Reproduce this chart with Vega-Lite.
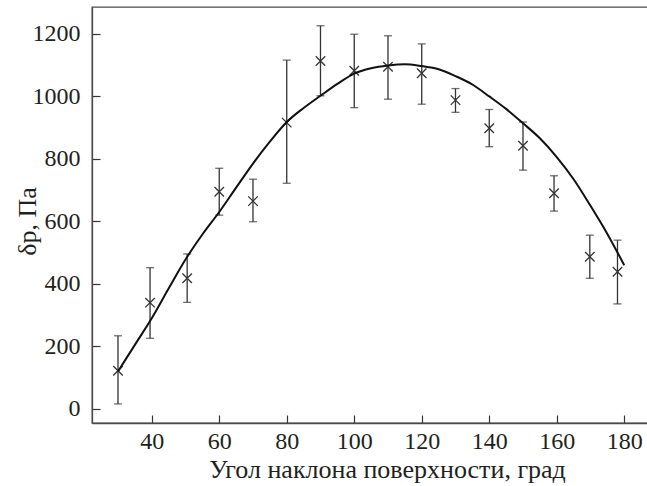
{
  "$schema": "https://vega.github.io/schema/vega-lite/v6.json",
  "width": 556,
  "height": 416,
  "autosize": {"type": "none"},
  "padding": {"left": 92, "top": 7, "right": 0, "bottom": 63},
  "background": "white",
  "config": {
    "view": {"stroke": "#4a4a4a", "strokeWidth": 1.3},
    "font": "Liberation Serif",
    "axis": {
      "grid": false,
      "domainColor": "#4a4a4a",
      "domainWidth": 1.3,
      "tickColor": "#333333",
      "tickWidth": 1.2,
      "tickSize": -8,
      "labelFont": "Liberation Serif",
      "labelFontSize": 24,
      "labelColor": "#231f20",
      "titleFont": "Liberation Serif",
      "titleFontSize": 26,
      "titleFontWeight": "normal",
      "titleColor": "#231f20"
    }
  },
  "datasets": {
    "points": [
      {"angle": 30, "dp": 122, "lo": 16, "hi": 234},
      {"angle": 39.5, "dp": 340, "lo": 226, "hi": 452},
      {"angle": 50.5, "dp": 418, "lo": 341, "hi": 496},
      {"angle": 60, "dp": 695, "lo": 620, "hi": 770},
      {"angle": 70, "dp": 665, "lo": 599, "hi": 735},
      {"angle": 80, "dp": 916, "lo": 722, "hi": 1116},
      {"angle": 90, "dp": 1113, "lo": 1002, "hi": 1226},
      {"angle": 100, "dp": 1082, "lo": 964, "hi": 1199},
      {"angle": 110, "dp": 1095, "lo": 991, "hi": 1194},
      {"angle": 120, "dp": 1074, "lo": 975, "hi": 1168},
      {"angle": 130, "dp": 988, "lo": 949, "hi": 1025},
      {"angle": 140, "dp": 898, "lo": 839, "hi": 958},
      {"angle": 150, "dp": 842, "lo": 764, "hi": 918},
      {"angle": 159.2, "dp": 690, "lo": 633, "hi": 746},
      {"angle": 169.8, "dp": 487, "lo": 418, "hi": 556},
      {"angle": 178, "dp": 439, "lo": 336, "hi": 540}
    ],
    "curve": [
      {"angle": 30, "dp": 120},
      {"angle": 35, "dp": 205},
      {"angle": 40, "dp": 290},
      {"angle": 45, "dp": 385},
      {"angle": 50, "dp": 478},
      {"angle": 55, "dp": 558},
      {"angle": 60, "dp": 630},
      {"angle": 65, "dp": 708},
      {"angle": 70, "dp": 785},
      {"angle": 75, "dp": 855},
      {"angle": 80, "dp": 918},
      {"angle": 85, "dp": 963},
      {"angle": 90, "dp": 1002},
      {"angle": 95, "dp": 1040},
      {"angle": 100, "dp": 1073},
      {"angle": 105, "dp": 1090},
      {"angle": 110, "dp": 1099},
      {"angle": 115, "dp": 1103},
      {"angle": 120, "dp": 1097},
      {"angle": 125, "dp": 1087},
      {"angle": 130, "dp": 1065},
      {"angle": 135, "dp": 1038},
      {"angle": 140, "dp": 1000},
      {"angle": 145, "dp": 960},
      {"angle": 150, "dp": 914},
      {"angle": 155, "dp": 866},
      {"angle": 160, "dp": 806},
      {"angle": 165, "dp": 735},
      {"angle": 170, "dp": 650},
      {"angle": 175, "dp": 560},
      {"angle": 180, "dp": 460}
    ]
  },
  "encoding": {
    "x": {
      "field": "angle",
      "type": "quantitative",
      "scale": {"domain": [22.3, 187.04], "nice": false, "zero": false},
      "axis": {
        "values": [40, 60, 80, 100, 120, 140, 160, 180],
        "format": "d",
        "title": "Угол наклона поверхности, град",
        "labelBaseline": "alphabetic",
        "labelPadding": 33,
        "titleBaseline": "alphabetic",
        "titleX": 295,
        "titleY": 54,
        "titleAlign": "center"
      }
    }
  },
  "layer": [
    {
      "data": {"name": "points"},
      "mark": {"type": "rule", "color": "#333333", "strokeWidth": 1.3},
      "encoding": {
        "y": {
          "field": "lo",
          "type": "quantitative",
          "scale": {"domain": [-45, 1286], "nice": false, "zero": false},
          "axis": {
            "values": [0, 200, 400, 600, 800, 1000, 1200],
            "format": "d",
            "title": "δp, Па",
            "labelPadding": 20,
            "titleBaseline": "alphabetic",
            "titleAngle": -90,
            "titleAlign": "center",
            "titleX": -57,
            "titleY": 214
          }
        },
        "y2": {"field": "hi"}
      }
    },
    {
      "data": {"name": "points"},
      "mark": {"type": "tick", "orient": "horizontal", "size": 8, "thickness": 1.3, "color": "#333333"},
      "encoding": {"y": {"field": "lo", "type": "quantitative"}}
    },
    {
      "data": {"name": "points"},
      "mark": {"type": "tick", "orient": "horizontal", "size": 8, "thickness": 1.3, "color": "#333333"},
      "encoding": {"y": {"field": "hi", "type": "quantitative"}}
    },
    {
      "data": {"name": "points"},
      "mark": {"type": "point", "shape": "M-1,-1L1,1M-1,1L1,-1", "filled": false, "size": 90, "stroke": "#333333", "strokeWidth": 1.3, "opacity": 1},
      "encoding": {"y": {"field": "dp", "type": "quantitative"}}
    },
    {
      "data": {"name": "curve"},
      "mark": {"type": "line", "color": "#111111", "strokeWidth": 2, "interpolate": "monotone"},
      "encoding": {"y": {"field": "dp", "type": "quantitative"}}
    }
  ]
}
